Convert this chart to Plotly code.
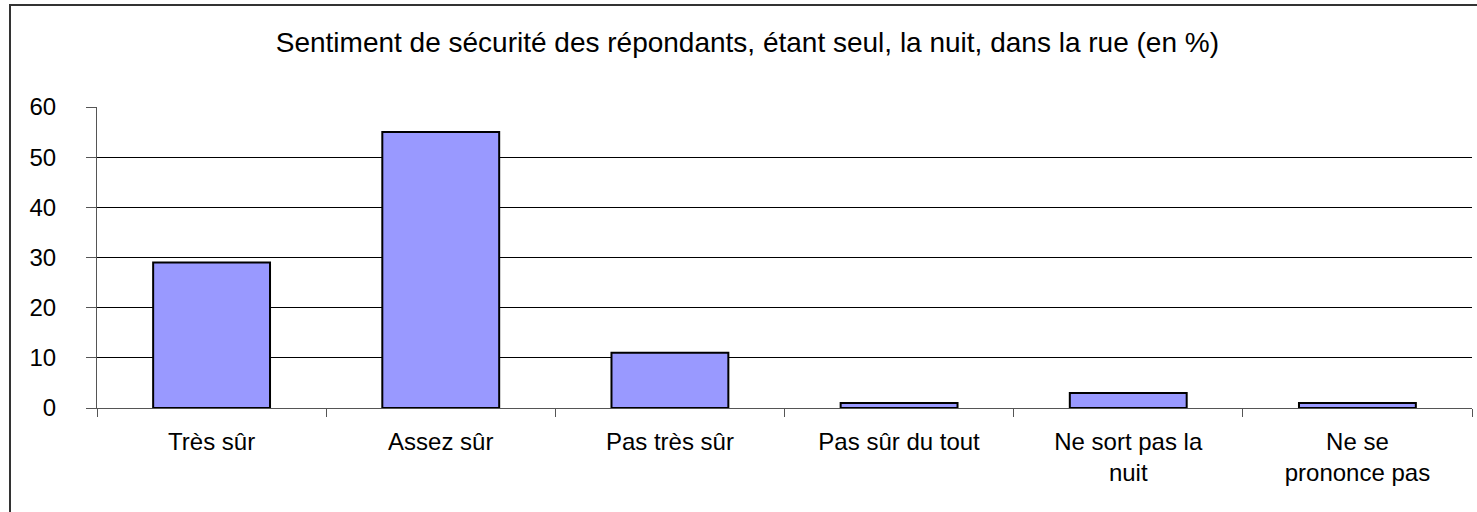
import plotly.graph_objects as go

categories = [
    "Très sûr",
    "Assez sûr",
    "Pas très sûr",
    "Pas sûr du tout",
    "Ne sort pas la<br>nuit",
    "Ne se<br>prononce pas",
]
values = [29, 55, 11, 1, 3, 1]
y_ticks = [0, 10, 20, 30, 40, 50, 60]

title = "Sentiment de sécurité des répondants, étant seul, la nuit, dans la rue (en %)"
font = "Liberation Sans, Arial, sans-serif"

fig = go.Figure(
    go.Bar(
        x=categories,
        y=values,
        marker=dict(color="#9999FF", line=dict(color="black", width=2)),
        hoverinfo="x+y",
    )
)

fig.update_layout(
    width=1477,
    height=512,
    margin=dict(l=97, r=5, t=107, b=104),
    paper_bgcolor="white",
    plot_bgcolor="white",
    bargap=0.49,
    showlegend=False,
    font=dict(family=font, color="black"),
    title=dict(
        text=title,
        font=dict(size=28, family=font, color="black"),
        x=0.506,
        xref="container",
        xanchor="center",
        y=1 - 42 / 512,
        yanchor="middle",
    ),
    # cadre du graphique
    shapes=[
        dict(
            type="rect",
            xref="paper",
            yref="paper",
            x0=(10 - 97) / 1375,
            x1=1.05,
            y0=-0.6,
            y1=(408 - 5) / 301,
            line=dict(color="#333333", width=2),
            layer="below",
        )
    ],
)

fig.update_yaxes(
    range=[0, 60],
    tickvals=y_ticks,
    showgrid=True,
    gridcolor="black",
    gridwidth=1,
    showline=True,
    linecolor="#555555",
    linewidth=1,
    ticks="outside",
    ticklen=10,
    tickcolor="#555555",
    ticklabelstandoff=25,
    tickfont=dict(size=24, family=font, color="black"),
    zeroline=False,
)
fig.update_xaxes(
    showline=True,
    linecolor="#555555",
    linewidth=1,
    ticks="outside",
    tickson="boundaries",
    ticklen=8,
    tickcolor="#555555",
    ticklabelstandoff=12,
    tickfont=dict(size=24, family=font, color="black"),
)

fig.write_html(
    "out.html",
    config={"displayModeBar": False},
    post_script="document.body.style.margin='0';",
)
